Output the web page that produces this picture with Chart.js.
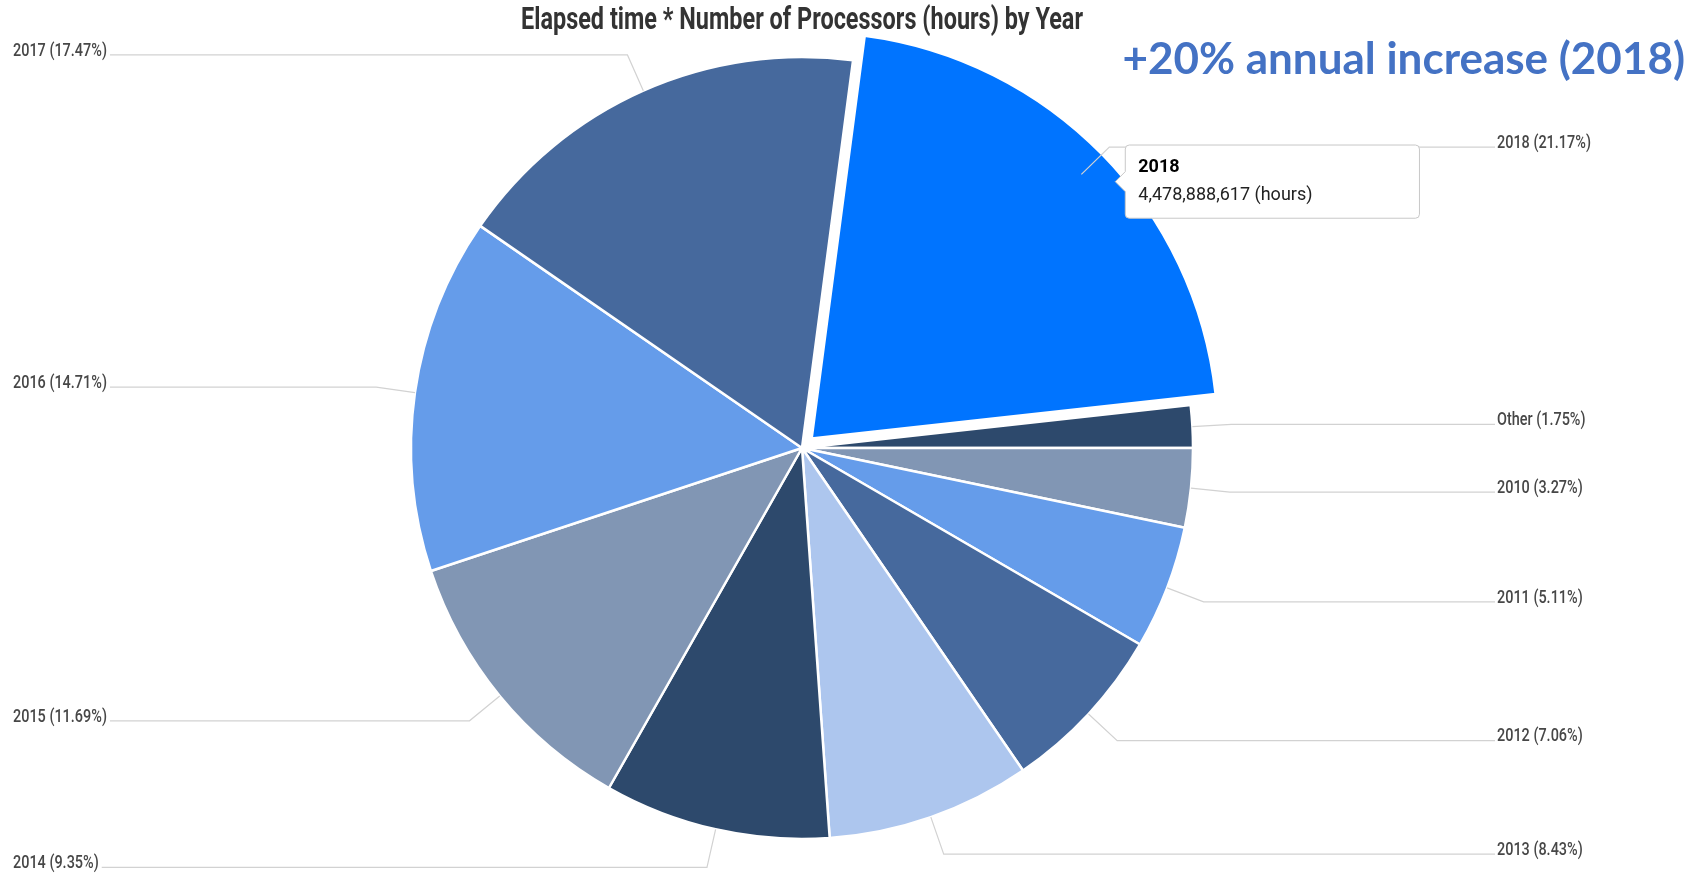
<!DOCTYPE html>
<html>
<head>
<meta charset="utf-8">
<title>Elapsed time * Number of Processors (hours) by Year</title>
<script src="https://cdn.jsdelivr.net/npm/chart.js@4/dist/chart.umd.min.js"></script>
<style>
    html, body { margin: 0; padding: 0; background: #fff; }
    #wrap { width: 1697px; height: 878px; position: relative; }
</style>
</head>
<body>
<div id="wrap"><canvas id="pie"></canvas></div>
<script>
const categories = ['Other', '2010', '2011', '2012', '2013', '2014', '2015', '2016', '2017', '2018'];
const hours = [370000000, 692000000, 1081000000, 1494000000, 1784000000, 1978000000, 2473000000, 3112000000, 3696000000, 4478888617];
const highlighted = '2018';
const titleText = 'Elapsed time * Number of Processors (hours) by Year';
const noteText = '+20% annual increase (2018)';

const sliceColors = ['#2d496c', '#8196b4', '#659cea', '#46699d', '#adc6ee', '#2d496c', '#8196b4', '#659cea', '#46699d', '#0074ff'];

const total = hours.reduce((a, b) => a + b, 0);
const hiIndex = categories.indexOf(highlighted);

// condensed text: no narrow font installed, so squeeze horizontally
const squeezedText = (ctx, text, x, y, sx) => {
    ctx.save();
    ctx.translate(x, y);
    ctx.scale(sx, 1);
    ctx.fillText(text, 0, 0);
    ctx.restore();
};

// google-style outside labels with elbow leader lines
const sideLabels = {
    id: 'sideLabels',
    afterDatasetsUpdate(chart) {
        const meta = chart.getDatasetMeta(0);
        const arc = meta.data[hiIndex];
        if (arc) arc.outerRadius = meta.controller.outerRadius + 15;
    },
    afterDatasetsDraw(chart) {
        const ctx = chart.ctx;
        const meta = chart.getDatasetMeta(0);
        const r = meta.controller.outerRadius;
        const sx = 0.76;
        ctx.save();
        ctx.font = '500 19px Roboto';
        ctx.textBaseline = 'middle';
        ctx.textAlign = 'left';
        ctx.fillStyle = '#474747';
        ctx.strokeStyle = '#d2d2d2';
        ctx.lineWidth = 1.2;
        meta.data.forEach((arc, i) => {
            const mid = (arc.startAngle + arc.endAngle) / 2;
            const cx = arc.x, cy = arc.y;
            const ex = cx + Math.cos(mid) * r, ey = cy + Math.sin(mid) * r;
            const bx = cx + Math.cos(mid) * r * 1.1, by = cy + Math.sin(mid) * r * 1.1;
            const text = categories[i] + ' (' + (hours[i] / total * 100).toFixed(2) + '%)';
            const w = ctx.measureText(text).width * sx;
            ctx.beginPath();
            ctx.moveTo(ex, ey);
            ctx.lineTo(bx, by);
            if (Math.cos(mid) < 0) {
                ctx.lineTo(13 + w + 3, by);
                ctx.stroke();
                squeezedText(ctx, text, 13, by - 4, sx);
            } else {
                ctx.lineTo(1495, by);
                ctx.stroke();
                squeezedText(ctx, text, 1497, by - 4, sx);
            }
        });
        ctx.restore();
    },
    afterDraw(chart) {
        const ctx = chart.ctx;
        const area = chart.chartArea;
        ctx.save();
        ctx.font = 'bold 32px Roboto';
        ctx.fillStyle = '#333';
        ctx.textAlign = 'center';
        ctx.textBaseline = 'middle';
        squeezedText(ctx, titleText, (area.left + area.right) / 2, 21, 562 / ctx.measureText(titleText).width);

        ctx.font = "bold 44px 'Lato', 'Open Sans', sans-serif";
        ctx.fillStyle = '#4472c4';
        ctx.textAlign = 'right';
        ctx.fillText(noteText, 1685, 60);
        ctx.restore();
    }
};

Chart.Tooltip.positioners.besideSlice = (elements) => {
    if (!elements.length) return false;
    const arc = elements[0].element;
    const mid = (arc.startAngle + arc.endAngle) / 2;
    const r = arc.outerRadius;
    return { x: arc.x + Math.cos(mid) * r * 0.98, y: arc.y + Math.sin(mid) * r * 0.98 + 12 };
};

const chart = new Chart(
    document.getElementById('pie'),
    {
        type: 'pie',
        plugins: [sideLabels],
        data: {
            labels: categories,
            datasets: [
                {
                    data: hours,
                    backgroundColor: sliceColors,
                    borderColor: '#ffffff',
                    borderWidth: 2.5,
                    offset: categories.map(c => c == highlighted ? 54 : 0)
                }
            ]
        },
        options: {
            responsive: true,
            maintainAspectRatio: false,
            animation: false,
            events: [],
            radius: 391,
            rotation: 90 - 360 * hours[0] / total,
            layout: {
                padding: { left: 0, right: 93, top: 42, bottom: 24 }
            },
            plugins: {
                legend: {
                    display: false
                },
                title: {
                    display: false
                },
                tooltip: {
                    enabled: true,
                    position: 'besideSlice',
                    xAlign: 'left',
                    yAlign: 'center',
                    backgroundColor: '#ffffff',
                    borderColor: '#c8c8c8',
                    borderWidth: 1,
                    cornerRadius: 4,
                    caretSize: 10,
                    caretPadding: 29,
                    displayColors: false,
                    padding: { top: 12, bottom: 12, left: 13, right: 107 },
                    titleColor: '#000',
                    titleFont: { family: 'Roboto', size: 18, weight: 'bold' },
                    titleMarginBottom: 6,
                    bodyColor: '#222',
                    bodyFont: { family: 'Roboto', size: 18 },
                    callbacks: {
                        label: (item) => item.raw.toLocaleString('en-US') + ' (hours)'
                    }
                }
            }
        }
    }
);

chart.tooltip.setActiveElements([{ datasetIndex: 0, index: hiIndex }], { x: 0, y: 0 });
chart.update();
</script>
</body>
</html>
